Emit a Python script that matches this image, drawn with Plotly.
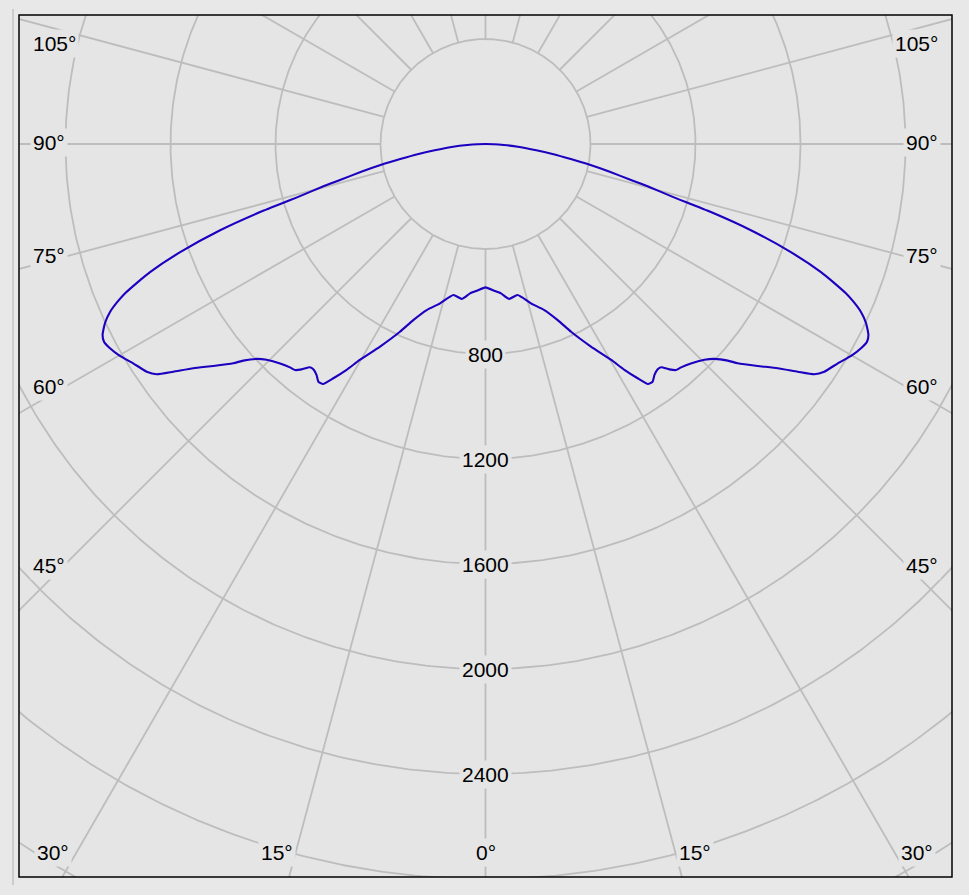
import numpy as np
import plotly.graph_objects as go

# ---- data: luminous intensity (cd) vs. gamma angle (deg), symmetric plane ----
gamma_deg = [0, 3.4, 5.9, 8.7, 12.0, 15.9, 19.5, 22.3, 24.5, 27.5, 30.2, 31.6,
             33.0, 34.1, 35.1, 36.2, 37.4, 38.2, 39.2, 40.1, 41.2, 43.1, 45.4,
             46.8, 48.2, 49.0, 50.8, 52.5, 53.9, 55.0, 56.1, 58.1, 59.9, 61.5,
             62.6, 63.5, 64.8, 65.9, 66.8, 67.5, 68.3, 69.1, 70.5, 72.0, 73.2,
             74.3, 75.3, 76.1, 77.4, 78.7, 80.0, 81.5, 83.0, 85.0, 87.0, 90.0]
intensity_cd = [546, 560, 572, 597, 588, 631, 671, 725, 786, 870, 952, 1010,
                1064, 1104, 1107, 1090, 1080, 1082, 1108, 1126, 1131, 1145, 1171,
                1196, 1238, 1273, 1338, 1403, 1472, 1529, 1555, 1581, 1610, 1629,
                1637, 1630, 1602, 1567, 1525, 1486, 1428, 1368, 1234, 1063, 897,
                734, 645, 571, 485, 405, 330, 262, 195, 130, 70, 0]

circle_radii = [400, 800, 1200, 1600, 2000, 2400, 2800, 3200, 3600]
radial_tick_values = [800, 1200, 1600, 2000, 2400]
spoke_angles = list(range(0, 360, 15))
side_labels = ["105°", "90°", "75°", "60°", "45°"]
bottom_labels = ["30°", "15°", "0°", "15°", "30°"]

# ---- layout geometry (pixels of the 969x895 page) ----
W, H = 969, 895
FL, FR, FT, FB = 19, 952, 15, 877          # frame
CX, CY = 485.5, 144.0                       # pole position
PX_PER_400 = 105.0
K = 400.0 / PX_PER_400                      # cd per pixel


def px2x(px):
    return (px - CX) * K


def py2y(py):
    return (CY - py) * K


side_label_py = [43.5, 142.5, 255, 386.5, 565]
left_label_px = 30
right_label_px = 941
bottom_label_px = [53, 276.5, 486, 694.5, 917]
bottom_label_py = 852.5

BG_IN = "#e5e5e5"
BG_OUT = "#e8e8e8"
GRID = "#bdbdbd"
CURVE = "#1c00c0"
FONT = dict(family="Liberation Sans, Arial, sans-serif", size=21, color="#000000")

fig = go.Figure()

# circles
cx_list, cy_list = [], []
t = np.radians(np.linspace(0, 360, 721))
for r in circle_radii:
    cx_list += list(r * np.sin(t)) + [None]
    cy_list += list(-r * np.cos(t)) + [None]
fig.add_trace(go.Scatter(x=cx_list, y=cy_list, mode="lines",
                         line=dict(color=GRID, width=1.8),
                         hoverinfo="skip", showlegend=False))

# spokes (start at the inner 400 cd circle)
sx, sy = [], []
for a in spoke_angles:
    ar = np.radians(a)
    sx += [circle_radii[0] * np.sin(ar), 5000 * np.sin(ar), None]
    sy += [-circle_radii[0] * np.cos(ar), -5000 * np.cos(ar), None]
fig.add_trace(go.Scatter(x=sx, y=sy, mode="lines",
                         line=dict(color=GRID, width=1.8),
                         hoverinfo="skip", showlegend=False))

# intensity curve (left half then mirrored right half)
g = np.radians(np.array(gamma_deg))
I = np.array(intensity_cd, dtype=float)
xl = -I * np.sin(g)
yl = -I * np.cos(g)
x_curve = list(xl[::-1]) + list(-xl[1:])
y_curve = list(yl[::-1]) + list(yl[1:])
fig.add_trace(go.Scatter(x=x_curve, y=y_curve, mode="lines",
                         line=dict(color=CURVE, width=2.1, shape="spline", smoothing=0.5),
                         hoverinfo="skip", showlegend=False))

annotations = []
for v in radial_tick_values:
    annotations.append(dict(x=0, y=-v, xref="x", yref="y", text=str(v),
                            showarrow=False, font=FONT, bgcolor=BG_IN,
                            borderpad=2, xanchor="center", yanchor="middle"))
for txt, py in zip(side_labels, side_label_py):
    annotations.append(dict(x=px2x(left_label_px), y=py2y(py), xref="x", yref="y",
                            text=txt, showarrow=False, font=FONT, bgcolor=BG_IN,
                            borderpad=2, xanchor="left", yanchor="middle"))
    annotations.append(dict(x=px2x(right_label_px), y=py2y(py), xref="x", yref="y",
                            text=txt, showarrow=False, font=FONT, bgcolor=BG_IN,
                            borderpad=2, xanchor="right", yanchor="middle"))
for txt, px in zip(bottom_labels, bottom_label_px):
    annotations.append(dict(x=px2x(px), y=py2y(bottom_label_py), xref="x", yref="y",
                            text=txt, showarrow=False, font=FONT, bgcolor=BG_IN,
                            borderpad=2, xanchor="center", yanchor="middle"))

pw, ph = FR - FL, FB - FT
shapes = [
    dict(type="rect", xref="paper", yref="paper", x0=0, x1=1, y0=0, y1=1,
         line=dict(color="#000000", width=1.5), layer="above"),
    dict(type="line", xref="paper", yref="paper",
         x0=(13 - FL) / pw, x1=(13 - FL) / pw,
         y0=(FB - 885) / ph, y1=(FB - 9) / ph,
         line=dict(color="#b0b0b0", width=1), layer="above"),
]

fig.update_layout(
    width=W, height=H, autosize=False,
    margin=dict(l=FL, r=W - FR, t=FT, b=H - FB, pad=0),
    paper_bgcolor=BG_OUT, plot_bgcolor=BG_IN,
    xaxis=dict(range=[px2x(FL), px2x(FR)], visible=False, fixedrange=True),
    yaxis=dict(range=[py2y(FB), py2y(FT)], visible=False, fixedrange=True),
    annotations=annotations, shapes=shapes, showlegend=False,
)

fig.write_html("out.html", config={"displayModeBar": False},
               post_script="document.body.style.margin='0';document.body.style.overflow='hidden';")
